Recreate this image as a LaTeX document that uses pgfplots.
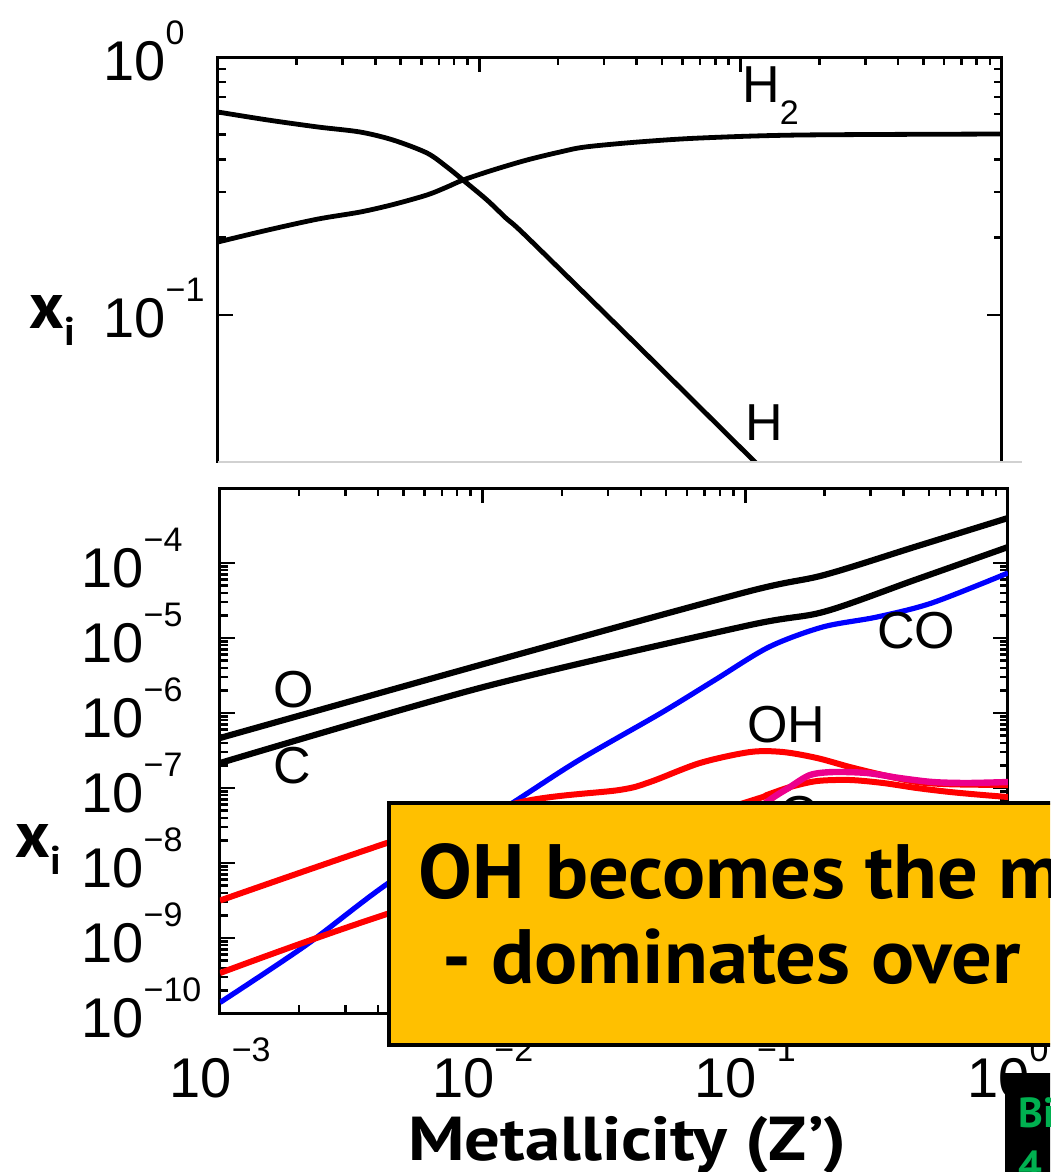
\documentclass[border=0pt]{standalone}
\usepackage{fontspec}
\setmainfont{Liberation Sans}
\newfontfamily\slidefont{PT Sans}
\usepackage{graphicx}
\usepackage{pgfplots}
\pgfplotsset{compat=1.18}
\definecolor{boxorange}{RGB}{255,192,0}
\definecolor{pptgreen}{RGB}{0,176,80}
\newcommand{\ten}[1]{10\raisebox{18pt}{\fontsize{17pt}{17pt}\selectfont #1}}
\newcommand{\tickfont}{\fontsize{28pt}{30pt}\selectfont}
\newcommand{\labfont}{\fontsize{26pt}{28pt}\selectfont}
\begin{document}
\begin{tikzpicture}
\useasboundingbox (0,0) rectangle (525pt,-586pt);
\clip (0,0) rectangle (525pt,-586pt);
% ---------------- top panel (its lower edge is cut off at y = 462 px) ----------------
\begin{scope}
\clip (0,0) rectangle (525pt,-231pt);
\begin{axis}[xmode=log, ymode=log, scale only axis,
  at={(109pt,-240pt)}, anchor=south west,
  width=392pt, height=211.5pt,
  xmin=1e-3, xmax=1, ymin=0.02293, ymax=1,
  tick align=inside, major tick length=7.5pt, minor tick length=4pt,
  xtick pos=both, ytick pos=both,
  tick style={black, line width=1.2pt},
  xtick={1e-3,1e-2,1e-1,1}, xticklabels={},
  ytick={0.1,1}, yticklabels={\ten{−1},\ten{0}},
  yticklabel style={font=\tickfont, anchor=base west, inner sep=0pt, xshift=-57.5pt, yshift=-11.5pt},
  axis line style={line width=1.5pt},
]
\addplot[black, line width=2.4pt, smooth, tension=0.5] coordinates {
(1e-3,0.612) (1.552e-3,0.570) (2.415e-3,0.5354) (3.494e-3,0.5121) (4.675e-3,0.4768)
(6.307e-3,0.4245) (7.521e-3,0.3747) (8.661e-3,0.3336) (1.070e-2,0.2791) (1.276e-2,0.2355)
(1.522e-2,0.2006) (4.157e-2,0.07383) (0.1135,0.02693) (0.1585,0.01941)};
\addplot[black, line width=2.4pt, smooth, tension=0.5] coordinates {
(1e-3,0.1919) (1.552e-3,0.2135) (2.415e-3,0.2355) (3.494e-3,0.2506) (4.675e-3,0.2680)
(6.307e-3,0.2919) (7.521e-3,0.3134) (8.661e-3,0.3336) (1.128e-2,0.3647) (1.522e-2,0.3989)
(2.036e-2,0.4284) (2.539e-2,0.4479) (4.048e-2,0.4683) (6.995e-2,0.4853) (0.1687,0.4985) (1,0.5029)};
\end{axis}
\end{scope}
% ---------------- bottom panel ----------------
\begin{axis}[xmode=log, ymode=log, scale only axis,
  at={(110pt,-506.5pt)}, anchor=south west,
  width=394pt, height=262.5pt,
  xmin=1e-3, xmax=1, ymin=1e-10, ymax=1e-3,
  tick align=inside, major tick length=7.5pt, minor tick length=4pt,
  xtick pos=both, ytick pos=both,
  tick style={black, line width=1.2pt},
  xtick={1e-3,1e-2,1e-1,1}, xticklabels={\ten{−3},\ten{−2},\ten{−1},\ten{0}},
  xticklabel pos=lower,
  xticklabel style={font=\tickfont, anchor=base, inner sep=0pt, yshift=-42pt},
  ytick={1e-10,1e-9,1e-8,1e-7,1e-6,1e-5,1e-4},
  yticklabels={\ten{−10},\ten{−9},\ten{−8},\ten{−7},\ten{−6},\ten{−5},\ten{−4}},
  yticklabel style={font=\tickfont, anchor=base west, inner sep=0pt, xshift=-69.5pt, yshift=-12pt},
  axis line style={line width=1.5pt},
]
\addplot[black, line width=3.1pt, smooth, tension=0.5] coordinates {
(1e-3,4.645e-7) (1e-2,4.467e-6) (0.1,4.074e-5) (0.1995,6.918e-5) (0.4467,1.660e-4) (1,3.981e-4)};
\addplot[black, line width=3.1pt, smooth, tension=0.5] coordinates {
(1e-3,2.153e-7) (1e-2,2.208e-6) (0.1,1.445e-5) (0.1995,2.239e-5) (0.4467,6.026e-5) (1,1.633e-4)};
\addplot[blue, line width=2.6pt, smooth, tension=0.5] coordinates {
(1e-3,1.38e-10) (2.143e-3,8.2e-10) (4.436e-3,5.585e-9) (1.315e-2,6.501e-8) (2.328e-2,2.360e-7)
(4.775e-2,1e-6) (7.656e-2,2.754e-6) (0.1230,7.586e-6) (0.1972,1.403e-5) (0.3170,1.905e-5)
(0.5129,2.931e-5) (1,7.362e-5)};
\addplot[red, line width=3pt, smooth, tension=0.5] coordinates {
(1e-3,3.162e-9) (4.436e-3,1.905e-8) (1.400e-2,6.501e-8) (3.304e-2,9.397e-8) (4.335e-2,1.202e-7)
(6.714e-2,2.153e-7) (0.1042,3.020e-7) (0.1390,3.020e-7) (0.1875,2.512e-7) (0.2500,1.905e-7)
(0.3342,1.489e-7) (0.4498,1.202e-7) (0.6012,1.122e-7) (1,1.096e-7)};
\addplot[red, line width=3pt, smooth, tension=0.5] coordinates {
(1e-3,3.412e-10) (4.436e-3,2.153e-9) (0.1014,6.501e-8) (0.1208,8.072e-8) (0.1479,1.030e-7)
(0.1875,1.239e-7) (0.2500,1.279e-7) (0.3342,1.167e-7) (0.4498,1.0e-7) (0.6012,8.851e-8)
(0.8017,8.072e-8) (1,7.586e-8)};
\addplot[magenta, line width=3.2pt, smooth, tension=0.5] coordinates {
(3.162e-2,2.512e-9) (7.943e-2,1.995e-8) (0.1208,6.501e-8) (0.1479,1.030e-7) (0.1762,1.489e-7)
(0.2153,1.633e-7) (0.2904,1.585e-7) (0.3873,1.358e-7) (0.5176,1.202e-7) (0.6982,1.167e-7)
(1,1.202e-7)};
\end{axis}
% ---------------- annotations in pixel units ----------------
\begin{scope}[x=0.5pt, y=-0.5pt]
  \draw[black!18, line width=0.6pt] (218,462) -- (1022,462);
  % curve labels
  \node[anchor=base west, inner sep=0pt, font=\labfont] at (742,103) {H\raisebox{-11pt}{\fontsize{17pt}{17pt}\selectfont 2}};
  \node[anchor=base west, inner sep=0pt, font=\labfont] at (745,440) {H};
  \node[anchor=base west, inner sep=0pt, font=\labfont] at (273,707) {O};
  \node[anchor=base west, inner sep=0pt, font=\labfont] at (273,783) {C};
  \node[anchor=base west, inner sep=0pt, font=\labfont] at (877,648) {CO};
  \node[anchor=base west, inner sep=0pt, font=\labfont] at (747,742) {OH};
  \node[anchor=base west, inner sep=0pt, font=\labfont] at (779,832) {O};
  % axis titles
  \node[anchor=base west, inner sep=0pt, font={\slidefont\bfseries\fontsize{33pt}{35pt}\selectfont}] at (29,328)
     {x\raisebox{-8.5pt}{\fontsize{20pt}{20pt}\selectfont i}};
  \node[anchor=base west, inner sep=0pt, font={\slidefont\bfseries\fontsize{33pt}{35pt}\selectfont}] at (15,857)
     {x\raisebox{-8.5pt}{\fontsize{20pt}{20pt}\selectfont i}};
  \node[anchor=base west, inner sep=0pt, font={\slidefont\bfseries\fontsize{31pt}{33pt}\selectfont}] at (408,1160)
     {\scalebox{1.14}[1]{Metallicity (Z’)}};
  % orange call-out
  \filldraw[fill=boxorange, draw=black, line width=2pt] (389,803) rectangle (1100,1045);
  \node[anchor=base west, inner sep=0pt, font={\slidefont\bfseries\fontsize{38.5pt}{40pt}\selectfont}] at (418,898)
     {\scalebox{1.045}[1]{OH becomes the main}};
  \node[anchor=base west, inner sep=0pt, font={\slidefont\bfseries\fontsize{38.5pt}{40pt}\selectfont}] at (442,983)
     {\scalebox{1.045}[1]{-}};
  \node[anchor=base west, inner sep=0pt, font={\slidefont\bfseries\fontsize{38.5pt}{40pt}\selectfont}] at (491,983)
     {\scalebox{1.045}[1]{dominates over}};
  % citation box
  \fill[black] (1005,1073) rectangle (1100,1200);
  \node[anchor=base west, inner sep=0pt, text=pptgreen, font={\slidefont\bfseries\fontsize{21pt}{23pt}\selectfont}] at (1018,1127)
     {Bialy};
  \node[anchor=base west, inner sep=0pt, text=pptgreen, font={\slidefont\bfseries\fontsize{21pt}{23pt}\selectfont}] at (1018,1180)
     {4};
\end{scope}
\end{tikzpicture}
\end{document}
